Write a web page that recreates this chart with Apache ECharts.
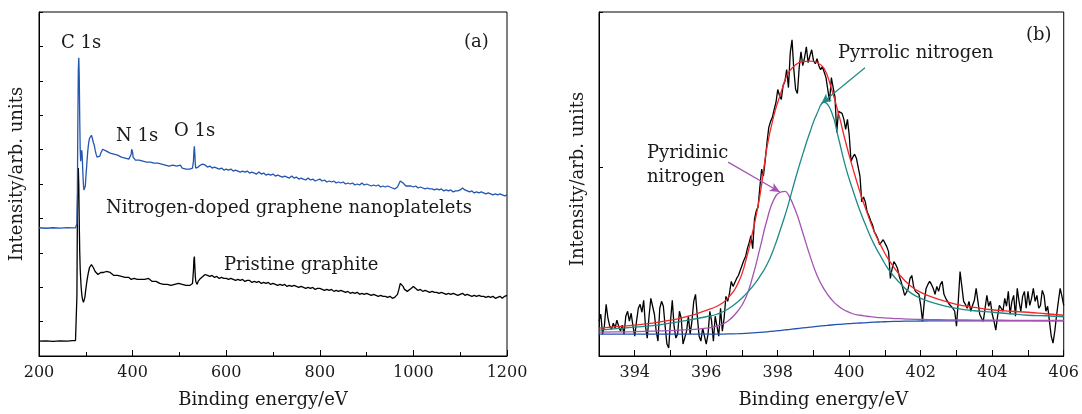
<!DOCTYPE html>
<html><head><meta charset="utf-8">
<script src="https://cdn.jsdelivr.net/npm/echarts@6/dist/echarts.min.js"></script>
<style>html,body{margin:0;padding:0;background:#fff}#c{width:1082px;height:414px}</style>
</head><body><div id="c"></div>
<script>
// ---------- Panel (a): survey spectra ----------
const surveyEnergy = [
  [200,215,230,245,260,272,278],
  [280,281,282,283,284,285,286,287,288,289,290,291,292,293,294,295,296,297,298,299,300],
  [302,304,306,308,310,312,314,316,318,320,322,324,326,328,330,332,334,336,338,340],
  [344,348,352,356,360,364,368,372,376,380,384,388,392],
  [395,397,398,399,400,401,403,406],
  [410,414,418,422,426,430,434,438,442,446,450,454,458,462,466,470,474,478,482,486,490,494,498,502,506,510,514,518,522],
  [526,528,530,531,532,533,534,535,536,538,540],
  [545,550,555,560,565,570,575,580,585,590,595,600,605,610,615,620,625,630,635,640,
   645,650,655,660,665,670,675,680,685,690,695,700,705,710,715,720,725,730,735,740,
   745,750,755,760,765,770,775,780,785,790,795,800,805,810,815,820,825,830,835,840,
   845,850,855,860,865,870,875,880,885,890,895,900,905,910,915,920,925,930,935,940,
   945,950,955,960],
  [963,966,969,972,975,978,981,984,987,990],
  [995,1000,1005,1010,1015,1020,1025,1030,1035,1040,1045,1050,1055,1060,1065,1070,1075,1080,1085,1090,
   1095,1100,1105,1110,1115,1120,1125,1130,1135,1140,1145,1150,1155,1160,1165,1170,1175,1180,1185,1190,
   1195,1200]
];
const ngnIntensity = [
  [129,128.5,129,128.7,129.2,128.8,129],
  [129.5,133,165,235,288,300,282,240,208,196,201,207,204,193,181,172,167,165,166,171,179],
  [192,205,214,219,221,222,219,215,212,207,203,200,199,200,201,204,206,208,207,208],
  [206,207,204,205,203,204,202,203,200,201,199,200,198],
  [199,203,208,210,205,200,198,197],
  [198,197,198,196,197,195,197,195,196,194,195,194,195,193,194,192,193,191,192,192,190,191,189,192,189,190,188,189,188],
  [188,189,196,206,211,203,193,189,188,189,190],
  [192,193,192,190,191,189,190,189,188,189,
   187,188,187,188,186,187,186,185,186,185,
   186,184,185,184,183,185,183,184,182,183,
   182,183,181,182,181,180,181,180,179,181,
   179,180,178,179,178,177,179,177,178,176,
   177,178,176,177,175,176,175,176,174,175,
   174,175,173,174,173,174,172,173,172,174,
   172,173,172,171,172,171,172,170,171,170,
   171,170,169,168],
  [169,170,173,176,177,174,172,171,172,171],
  [171,170,171,169,170,169,168,169,168,168,
   167,168,167,168,166,167,166,167,165,166,
   166,167,169,167,166,165,166,164,165,164,
   165,164,163,164,163,162,163,162,163,162,
   161,162]
];
const graphiteIntensity = [
  [15,15.3,14.8,15.2,15,15.4,15.6],
  [17,60,140,182,189,172,135,105,88,78,70,64,60,57,55,54,54,56,59,63,67],
  [74,80,85,89,91,92,91,89,87,85,84,83,82,83,82,84,83,85,84,86],
  [85,86,84,82,81,80,81,79,80,78,79,78,79],
  [78,77,78,77,78,77,78,77],
  [77,78,77,76,77,76,78,76,75,76,75,76,73,74,72,73,72,73,71,72,72,71,73,71,72,70,71,70,71],
  [71,73,86,97,100,90,80,75,73,72,75],
  [78,80,82,81,80,81,79,80,78,79,
   78,78,77,78,77,76,77,76,77,75,
   76,76,74,75,74,75,73,74,73,74,
   72,73,72,71,72,71,72,70,71,70,
   71,70,69,70,69,68,69,68,69,67,
   68,68,67,66,67,66,67,65,66,65,
   66,65,64,65,63,64,63,64,62,63,
   62,63,62,61,62,61,60,61,60,60,
   59,60,58,59],
  [59,62,67,73,74,70,67,66,65,67],
  [68,70,68,66,67,65,66,65,64,65,
   64,64,63,64,63,62,63,62,63,62,
   61,62,63,61,62,61,60,61,60,61,
   60,60,59,60,59,60,58,59,60,58,
   60,61]
];
const surveyXTicks = {min: 200, max: 1200, interval: 200};

// ---------- Panel (b): N 1s high-resolution ----------
const n1sStart = 393, n1sStep = 0.05;   // scan grid of the raw data
const n1sRaw = [
  [35,42,22,30,52,38,30,27,33,28,36,30,25,31,22,40,45,35,43,30],
  [20,35,48,52,44,56,30,18,40,58,56,42,25,15,48,55,50,30,12,8],
  [35,56,30,18,22,45,38,12,10,25,40,22,35,55,62,40,20,15,28,30],
  [12,22,45,35,15,40,30,20,48,25,38,60,55,63,75,70,68,78,81,86],
  [91,96,100,108,114,121,108,138,146,150,170,188,181,197,215,230,236,240,248,255],
  [268,262,258,272,276,288,270,305,318,288,268,264,290,306,292,300,311,295,302,308],
  [297,294,299,292,288,291,289,280,268,256,280,270,261,225,246,248,244,238,228,238],
  [222,196,200,203,199,201,181,155,160,155,145,141,136,132,125,122,118,112,111,117],
  [115,110,105,78,88,95,92,88,80,75,68,61,64,68,78,81,70,65,66,62],
  [51,35,55,68,72,75,72,68,62,70,65,72,75,62,58,55,52,50,48,45],
  [30,55,85,70,55,52,48,55,45,51,56,68,55,42,38,35,48,61,50,55],
  [42,35,26,40,51,48,45,58,50,65,42,55,61,40,68,55,45,60,65,48],
  [65,51,58,68,55,61,48,51,66,61,45,50,35,20,13,25,41,55,68,60],
  [51]
];
const fitEnergy = [393,393.5,394,394.5,395,395.5,396,396.3,396.6,396.9,397.1,397.3,397.5,397.7,397.9,398.1,398.2,398.3,398.5,398.7,398.9,399.1,399.3,399.5,399.7,399.9,400.1,400.3,400.5,400.7,400.9,401.1,401.4,401.7,402,402.5,403,403.5,404,404.5,405,405.5,406];
const fitBackground = [22,22,22,22,22,22,22,22,22.2,22.5,22.8,23.2,23.7,24.3,25,25.8,26.2,26.6,27.4,28.2,29,29.8,30.5,31.2,31.8,32.3,32.8,33.2,33.6,34,34.3,34.6,34.9,35.1,35.2,35.3,35.4,35.4,35.4,35.4,35.4,35.4,35.4];
const fitPyridinic = [24,24.2,24.5,25,25.5,26.5,28,30,35,46,58,80,108,137,158,165,165.5,162,146,124,101,81,67,57,50,45.5,42.5,41,40,39,38.5,38,37.5,37,36.8,36.5,36.3,36.1,36,35.9,35.8,35.7,35.7];
const fitPyrrolic = [26,27.5,29,30.5,33,36,39.5,42,47,55,62,70,80,92,109,130,141,153,179,203,225,244,255,246,219,190,167,146,128,112,99,87,74,64,58,52,48,45.5,44,42.5,41,40.5,39.5];
const fitEnvelope = [28,29.5,31,33,36,40,46,50,58,74,95,125,161,210,243,266,277,285,293,296,296.5,295,289,269,244,215,189,165,144,125,110,97,82,71,64,57,52,49,46.5,45,44,42.5,41];
const pyridinicArrow = [[396.61,195],[398.06,165]];
const pyrrolicArrow = [[400.44,290],[399.22,254]];

// ---------- build ----------
const flat = a => a.reduce((s, r) => s.concat(r), []);
const eA = flat(surveyEnergy), ngn = flat(ngnIntensity), gra = flat(graphiteIntensity);
const raw = flat(n1sRaw);
const ngnData = eA.map((e, i) => [e, ngn[i]]);
const graData = eA.map((e, i) => [e, gra[i]]);
const rawData = raw.map((v, i) => [+(n1sStart + i * n1sStep).toFixed(2), v]);
const fit = arr => fitEnergy.map((e, i) => [e, arr[i]]);

const FONT = '"DejaVu Serif", "Liberation Serif", serif';
const TXT = '#1a1a1a';
const axisCommon = {
  axisLine: {show: true, onZero: false, lineStyle: {color: '#000', width: 1}},
  splitLine: {show: false}
};
function txt(x, y, s, size) {
  return {type: 'text', x: x, y: y, silent: true,
    style: {text: s, fill: TXT, font: (size || 18) + 'px ' + FONT, align: 'left', verticalAlign: 'middle', textAlign: 'left', textVerticalAlign: 'middle'}};
}
function arrowLine(pts, color) {
  return {symbol: ['none', 'arrow'], symbolSize: [7, 10], silent: true, animation: false,
    label: {show: false}, lineStyle: {color: color, width: 1.2, type: 'solid'},
    emphasis: {disabled: true},
    data: [[{coord: pts[0]}, {coord: pts[1]}]]};
}

const chart = echarts.init(document.getElementById('c'), null, {renderer: 'canvas'});
chart.setOption({
  animation: false,
  backgroundColor: '#fff',
  grid: [
    {left: 39, top: 12, width: 468, height: 346, show: true, borderColor: '#000', borderWidth: 1, containLabel: false},
    {left: 599, top: 12, width: 468, height: 346, show: true, borderColor: '#000', borderWidth: 1, containLabel: false}
  ],
  xAxis: [
    Object.assign({}, axisCommon, {gridIndex: 0, type: 'value', min: surveyXTicks.min, max: surveyXTicks.max, interval: surveyXTicks.interval,
      axisTick: {show: true, inside: true, length: 6, lineStyle: {color: '#000'}},
      minorTick: {show: true, splitNumber: 2, length: 4, lineStyle: {color: '#000'}},
      axisLabel: {color: TXT, fontFamily: FONT, fontSize: 16, margin: 9, formatter: v => String(v)},
      name: 'Binding energy/eV', nameLocation: 'middle', nameGap: 35,
      nameTextStyle: {color: TXT, fontFamily: FONT, fontSize: 18, padding: [0, 20, 0, 0]}}),
    Object.assign({}, axisCommon, {gridIndex: 1, type: 'value', min: 393, max: 406, interval: 1,
      axisTick: {show: true, inside: true, length: 6, lineStyle: {color: '#000'}},
      axisLabel: {color: TXT, fontFamily: FONT, fontSize: 16, margin: 9, formatter: v => (Math.round(v) % 2 === 0 ? String(Math.round(v)) : '')},
      name: 'Binding energy/eV', nameLocation: 'middle', nameGap: 35,
      nameTextStyle: {color: TXT, fontFamily: FONT, fontSize: 18, padding: [0, 16, 0, 0]}})
  ],
  yAxis: [
    Object.assign({}, axisCommon, {gridIndex: 0, type: 'value', min: 0, max: 346, interval: 34.6,
      axisTick: {show: true, inside: true, length: 4, lineStyle: {color: '#000'}},
      axisLabel: {show: false},
      name: 'Intensity/arb. units', nameLocation: 'middle', nameGap: 13,
      nameTextStyle: {color: TXT, fontFamily: FONT, fontSize: 18, padding: [0, 0, 0, 20]}}),
    Object.assign({}, axisCommon, {gridIndex: 1, type: 'value', min: 0, max: 346, interval: 190,
      axisTick: {show: true, inside: true, length: 4, lineStyle: {color: '#000'}},
      axisLabel: {show: false},
      name: 'Intensity/arb. units', nameLocation: 'middle', nameGap: 12,
      nameTextStyle: {color: TXT, fontFamily: FONT, fontSize: 18, padding: [0, 0, 0, 10]}})
  ],
  series: [
    {type: 'line', xAxisIndex: 0, yAxisIndex: 0, data: graData, showSymbol: false, lineStyle: {color: '#000', width: 1.3}, z: 3},
    {type: 'line', xAxisIndex: 0, yAxisIndex: 0, data: ngnData, showSymbol: false, lineStyle: {color: '#2456b0', width: 1.3}, z: 3},
    {type: 'line', xAxisIndex: 1, yAxisIndex: 1, data: rawData, showSymbol: false, lineStyle: {color: '#000', width: 1.3}, z: 2},
    {type: 'line', xAxisIndex: 1, yAxisIndex: 1, data: fit(fitBackground), smooth: true, showSymbol: false, lineStyle: {color: '#2452b0', width: 1.3}, z: 3},
    {type: 'line', xAxisIndex: 1, yAxisIndex: 1, data: fit(fitPyridinic), smooth: true, showSymbol: false, lineStyle: {color: '#a454b4', width: 1.3}, z: 3,
      markLine: arrowLine(pyridinicArrow, '#a454b4')},
    {type: 'line', xAxisIndex: 1, yAxisIndex: 1, data: fit(fitPyrrolic), smooth: true, showSymbol: false, lineStyle: {color: '#1d8a84', width: 1.3}, z: 3,
      markLine: arrowLine(pyrrolicArrow, '#1d8a84')},
    {type: 'line', xAxisIndex: 1, yAxisIndex: 1, data: fit(fitEnvelope), smooth: true, showSymbol: false, lineStyle: {color: '#f02828', width: 1.3}, z: 4}
  ],
  graphic: [
    txt(61, 43, 'C 1s'),
    txt(116, 136, 'N 1s'),
    txt(174, 131, 'O 1s'),
    txt(106, 208, 'Nitrogen-doped graphene nanoplatelets'),
    txt(224, 265, 'Pristine graphite'),
    txt(464, 42, '(a)'),
    txt(1026, 35, '(b)'),
    txt(838, 53, 'Pyrrolic nitrogen'),
    txt(647, 153, 'Pyridinic'),
    txt(647, 177, 'nitrogen')
  ]
});
</script></body></html>
